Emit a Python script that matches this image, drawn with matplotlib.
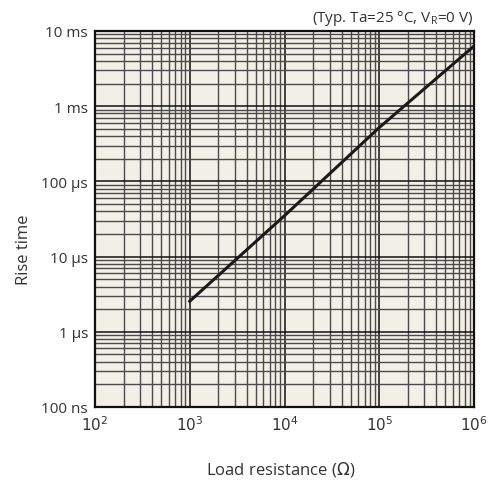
import matplotlib
matplotlib.use("Agg")
import matplotlib.pyplot as plt
from matplotlib.ticker import LogLocator, FixedLocator, NullFormatter

plt.rcParams['font.family'] = ['Open Sans', 'DejaVu Sans']

# curve
resistance = [1e3, 1e4, 1e5, 1e6]
rise_time = [2.55e-6, 3.5e-5, 5.2e-4, 6.3e-3]

y_ticks = [1e-7, 1e-6, 1e-5, 1e-4, 1e-3, 1e-2]
y_labels = ['100 ns', '1 µs', '10 µs', '100 µs', '1 ms', '10 ms']
x_ticks = [1e2, 1e3, 1e4, 1e5, 1e6]
x_labels = ['$10^{2}$', '$10^{3}$', '$10^{4}$', '$10^{5}$', '$10^{6}$']

txt = '#333333'

fig = plt.figure(figsize=(4.9, 4.85), dpi=100)
ax = fig.add_axes([95 / 490, 1 - 408 / 485, 379 / 490, 376 / 485])
ax.set_facecolor('#f2efe7')

ax.set_xscale('log')
ax.set_yscale('log')
ax.set_xlim(1e2, 1e6)
ax.set_ylim(1e-7, 1e-2)

ax.xaxis.set_major_locator(FixedLocator(x_ticks))
ax.yaxis.set_major_locator(FixedLocator(y_ticks))
ax.xaxis.set_minor_locator(LogLocator(base=10, subs=range(2, 10), numticks=20))
ax.yaxis.set_minor_locator(LogLocator(base=10, subs=range(2, 10), numticks=20))
ax.xaxis.set_minor_formatter(NullFormatter())
ax.yaxis.set_minor_formatter(NullFormatter())
ax.set_xticklabels(x_labels)
ax.set_yticklabels(y_labels)

ax.grid(which='major', color='#111111', lw=1.1)
ax.grid(which='minor', color='#4a4a4a', lw=1.0)
ax.set_axisbelow(True)

ax.tick_params(which='both', length=0, labelsize=11, labelcolor=txt)
ax.tick_params(axis='x', pad=6)
ax.tick_params(axis='y', pad=5)

for s in ax.spines.values():
    s.set_linewidth(1.6)
    s.set_color('#111111')

ax.plot(resistance, rise_time, color='#1a1a1a', lw=2.2, zorder=5)

ax.set_xlabel('Load resistance ($\\Omega$)', fontsize=12, color=txt)
ax.xaxis.set_label_coords(0.49, -0.138)
ax.set_ylabel('Rise time', fontsize=12, color=txt)
ax.yaxis.set_label_coords(-0.166, 0.42)

fig.text(474 / 490, 1 - 18 / 485, '(Typ. Ta=25 °C, V$_\\mathregular{R}$=0 V)',
         ha='right', va='center', fontsize=11, color=txt)

fig.savefig('out.png', dpi=100)
